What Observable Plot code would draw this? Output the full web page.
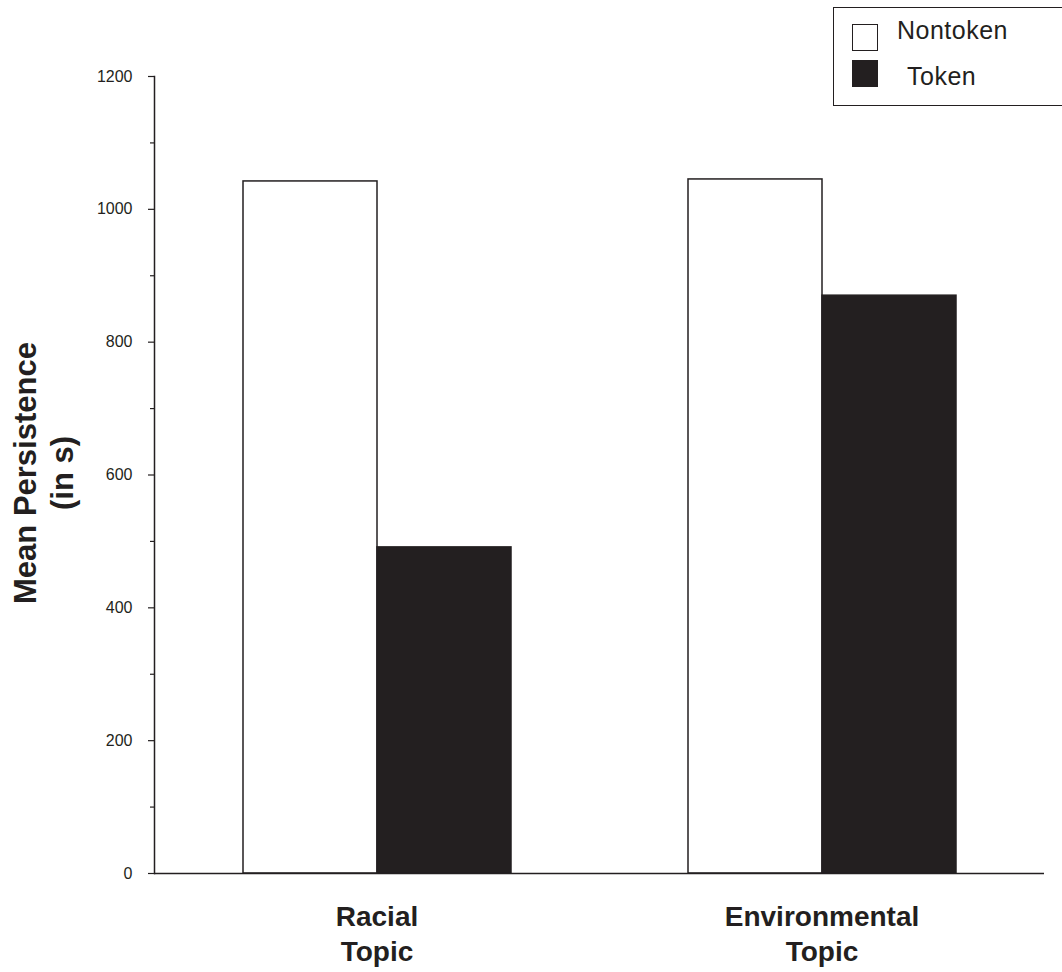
<!DOCTYPE html>
<html>
<head>
<meta charset="utf-8">
<script src="https://cdn.jsdelivr.net/npm/d3@7"></script>
<script src="https://cdn.jsdelivr.net/npm/@observablehq/plot@0.6"></script>
<style>
  html, body { margin: 0; padding: 0; background: #fff; }
  #wrap { position: relative; width: 1062px; height: 972px; overflow: hidden; font-family: "Liberation Sans", Arial, sans-serif; color: #231f20; }
  #legend { position: absolute; left: 833px; top: 7px; width: 260px; height: 99px; border: 1.5px solid #231f20; box-sizing: border-box; background: #fff; }
  .sw { position: absolute; left: 18px; width: 26px; height: 27px; box-sizing: border-box; border: 1.5px solid #231f20; }
  .lt { position: absolute; font-size: 25px; line-height: 1; white-space: nowrap; letter-spacing: 0.5px; }
  #ylabel { position: absolute; left: 44px; top: 473px; transform: translate(-50%, -50%) rotate(-90deg); font-size: 31px; font-weight: bold; text-align: center; line-height: 37px; white-space: nowrap; }
</style>
</head>
<body>
<div id="wrap">
  <div id="chart"></div>
  <div id="ylabel"></div>
  <div id="legend"></div>
</div>
<script>
// ---- data ----
const topics = ["Racial Topic", "Environmental Topic"];
const conditions = ["Nontoken", "Token"];
const nontokenValues = [1042, 1045];
const tokenValues = [491, 870];
const majorTicks = [0, 200, 400, 600, 800, 1000, 1200];
const minorTicks = [100, 300, 500, 700, 900, 1100];
const yLabelLines = ["Mean Persistence", "(in s)"];
const colors = ["#ffffff", "#231f20"];

const rows = [];
topics.forEach((t, i) => {
  rows.push({topic: t, condition: conditions[0], value: nontokenValues[i]});
  rows.push({topic: t, condition: conditions[1], value: tokenValues[i]});
});

const ink = "#231f20";
const chart = Plot.plot({
  width: 1062,
  height: 972,
  marginTop: 76,
  marginBottom: 99,
  marginLeft: 153,
  marginRight: 18,
  style: {fontFamily: "'Liberation Sans', Arial, sans-serif", color: ink, background: "white"},
  fx: {domain: topics, padding: 0, axis: null},
  x: {domain: conditions, paddingInner: 0, paddingOuter: 0.656, axis: null},
  y: {domain: [0, 1200], axis: null},
  color: {domain: conditions, range: colors},
  marks: [
    Plot.barY(rows, {fx: "topic", x: "condition", y: "value", fill: "condition", stroke: ink, strokeWidth: 1.5}),
    Plot.ruleY([0], {stroke: ink, strokeWidth: 1.5}),
    Plot.frame({anchor: "left", facetAnchor: "left", stroke: ink, strokeWidth: 1.5}),
    Plot.axisY({ticks: majorTicks, tickSize: 6, tickPadding: 16, fontSize: 16, tickFormat: d => String(d), label: null, stroke: ink, strokeWidth: 1.2}),
    Plot.axisY({ticks: minorTicks, tickSize: 4, tickFormat: () => "", label: null, stroke: ink, strokeWidth: 1.2}),
    Plot.axisFx({anchor: "bottom", tickSize: 0, tickPadding: 28, fontSize: 28, fontWeight: "bold", lineHeight: 1.25,
      tickFormat: d => d.replace(" ", "\n"), label: null})
  ]
});
document.getElementById("chart").appendChild(chart);

document.getElementById("ylabel").innerHTML = yLabelLines.join("<br>");

const legend = document.getElementById("legend");
conditions.forEach((c, i) => {
  const sw = document.createElement("div");
  sw.className = "sw";
  sw.style.top = (i === 0 ? 16 : 52) + "px";
  sw.style.background = colors[i];
  legend.appendChild(sw);
  const t = document.createElement("div");
  t.className = "lt";
  t.style.left = (i === 0 ? 63 : 73) + "px";
  t.style.top = (i === 0 ? 10 : 56) + "px";
  t.textContent = c;
  legend.appendChild(t);
});
</script>
</body>
</html>
